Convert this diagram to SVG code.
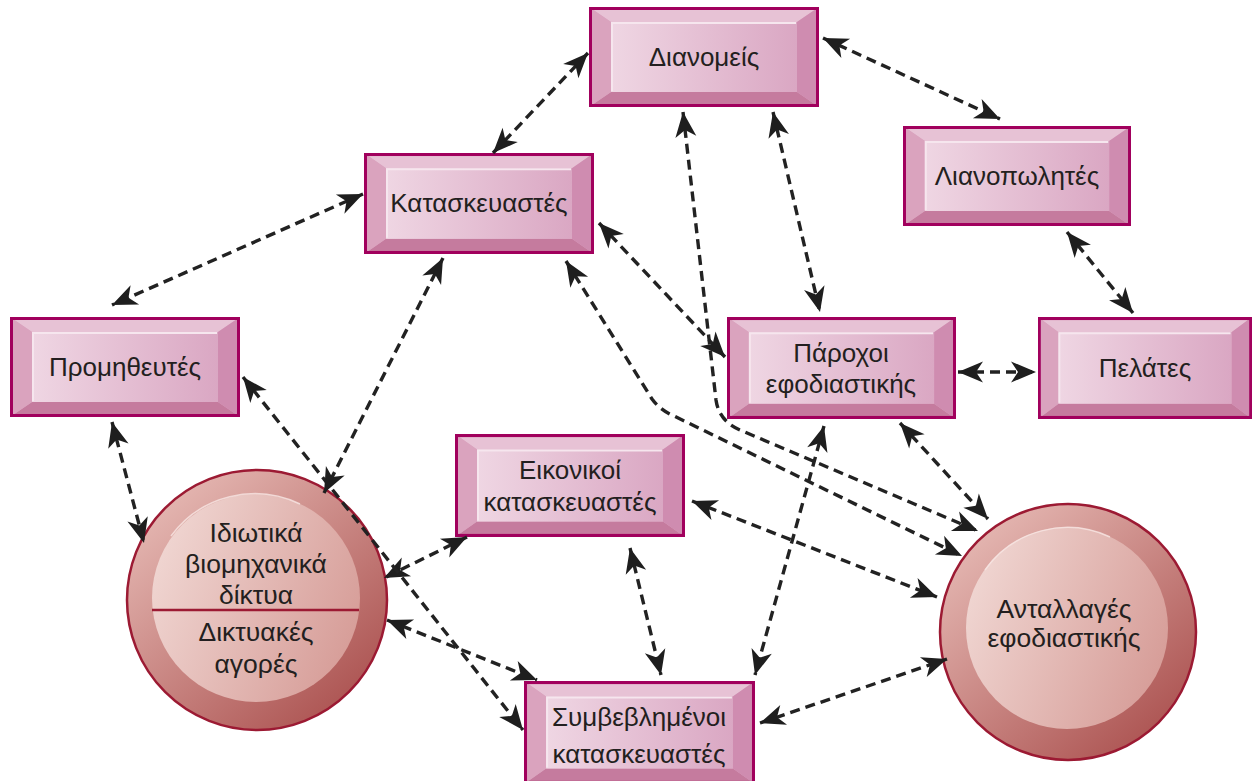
<svg xmlns="http://www.w3.org/2000/svg" xmlns:xlink="http://www.w3.org/1999/xlink" width="1254" height="781" viewBox="0 0 1254 781">
  <defs>
    <style>
      .lbl { font-family: "Liberation Sans", Arial, "DejaVu Sans", sans-serif; font-size: 26px; fill: #231f20; text-anchor: middle; }
      .clbl { font-size: 26.5px; }
      .link { fill: none; stroke: #222222; stroke-width: 3.4; stroke-dasharray: 10 6; marker-start: url(#head); marker-end: url(#head); }
      .edge { fill: none; stroke: #9c1a33; stroke-width: 2.5; }
    </style>
    <linearGradient id="faceGrad" x1="0" y1="0" x2="1" y2="0">
      <stop offset="0" stop-color="#efd6e3"/>
      <stop offset="1" stop-color="#daa7c3"/>
    </linearGradient>
    <linearGradient id="ringGrad" x1="0.15" y1="0.1" x2="0.85" y2="0.9">
      <stop offset="0" stop-color="#e4b6b1"/>
      <stop offset="1" stop-color="#ad5553"/>
    </linearGradient>
    <linearGradient id="discGrad" x1="0" y1="0.3" x2="1" y2="0.7">
      <stop offset="0" stop-color="#f0d6d2"/>
      <stop offset="1" stop-color="#d69c97"/>
    </linearGradient>
    <!-- barbed arrowhead, tip at the path end -->
    <marker id="head" viewBox="-26 -12 28 24" refX="0" refY="0" markerWidth="28" markerHeight="24" markerUnits="userSpaceOnUse" orient="auto-start-reverse">
      <path d="M0,0 L-25,-10.5 L-18,0 L-25,10.5 Z" fill="#1e1e1e"/>
    </marker>
    <!-- bevelled box, 230 x 100 -->
    <symbol id="bevelBox" viewBox="0 0 230 100" preserveAspectRatio="none">
      <rect x="0" y="0" width="230" height="100" fill="#dba6c1"/>
      <polygon points="0,0 230,0 208,15 22,15" fill="#e7c2d5"/>
      <polygon points="0,100 230,100 208,85 22,85" fill="#c57b9e"/>
      <polygon points="0,0 22,15 22,85 0,100" fill="#daa3be"/>
      <polygon points="230,0 208,15 208,85 230,100" fill="#cf8cb0"/>
      <rect x="22" y="15" width="186" height="70" fill="url(#faceGrad)"/>
      <polyline points="23,84 23,16 207,16" fill="none" stroke="#f6e6ee" stroke-width="2"/>
      <rect x="1.5" y="1.5" width="227" height="97" fill="none" stroke="#a1005d" stroke-width="3"/>
    </symbol>
  </defs>

  <rect x="0" y="0" width="1254" height="781" fill="#ffffff"/>

  <!-- rectangular nodes -->
  <g id="distributors">
    <use xlink:href="#bevelBox" x="589" y="7" width="230" height="100"/>
    <text class="lbl" x="704" y="66">Διανομείς</text>
  </g>
  <g id="manufacturers">
    <use xlink:href="#bevelBox" x="364" y="153" width="230" height="101"/>
    <text class="lbl" x="479" y="212">Κατασκευαστές</text>
  </g>
  <g id="retailers">
    <use xlink:href="#bevelBox" x="903" y="126" width="228" height="100"/>
    <text class="lbl" x="1017" y="185">Λιανοπωλητές</text>
  </g>
  <g id="suppliers">
    <use xlink:href="#bevelBox" x="10" y="317" width="230" height="100"/>
    <text class="lbl" x="125" y="376">Προμηθευτές</text>
  </g>
  <g id="logistics-providers">
    <use xlink:href="#bevelBox" x="727" y="317" width="229" height="102"/>
    <text class="lbl" x="841" y="362">Πάροχοι</text>
    <text class="lbl" x="841" y="393">εφοδιαστικής</text>
  </g>
  <g id="customers">
    <use xlink:href="#bevelBox" x="1038" y="317" width="214" height="102"/>
    <text class="lbl" x="1145" y="377">Πελάτες</text>
  </g>
  <g id="virtual-manufacturers">
    <use xlink:href="#bevelBox" x="455" y="434" width="230" height="103"/>
    <text class="lbl" x="570" y="479">Εικονικοί</text>
    <text class="lbl" x="570" y="511">κατασκευαστές</text>
  </g>
  <g id="contract-manufacturers">
    <use xlink:href="#bevelBox" x="524" y="681" width="231" height="103"/>
    <text class="lbl" x="639" y="726">Συμβεβλημένοι</text>
    <text class="lbl" x="639" y="763">κατασκευαστές</text>
  </g>

  <!-- circular nodes -->
  <g id="private-networks">
    <circle cx="257" cy="600" r="130" fill="url(#ringGrad)"/>
    <circle cx="256" cy="598" r="104" fill="url(#discGrad)"/>
    <path d="M171,536 A104,104 0 0 1 300,504" fill="none" stroke="#f7e6e3" stroke-width="1.5" opacity="0.8"/>
    <circle class="edge" cx="257" cy="600" r="130"/>
    <line x1="152" y1="610" x2="359" y2="610" stroke="#9c1a33" stroke-width="2.5"/>
    <text class="lbl clbl" x="256" y="542">Ιδιωτικά</text>
    <text class="lbl clbl" x="256" y="573">βιομηχανικά</text>
    <text class="lbl clbl" x="256" y="604">δίκτυα</text>
    <text class="lbl clbl" x="256" y="641">Δικτυακές</text>
    <text class="lbl clbl" x="256" y="673">αγορές</text>
  </g>
  <g id="logistics-exchanges">
    <circle cx="1068" cy="632" r="128" fill="url(#ringGrad)"/>
    <circle cx="1067" cy="628" r="101" fill="url(#discGrad)"/>
    <path d="M985,570 A101,101 0 0 1 1110,537" fill="none" stroke="#f7e6e3" stroke-width="1.5" opacity="0.8"/>
    <circle class="edge" cx="1068" cy="632" r="128"/>
    <text class="lbl clbl" x="1064" y="618">Ανταλλαγές</text>
    <text class="lbl clbl" x="1064" y="647">εφοδιαστικής</text>
  </g>

  <!-- connectors, drawn over the nodes -->
  <g id="connectors">
    <path class="link" d="M493,153 L588,53"/>
    <path class="link" d="M823,38 L1000,119"/>
    <path class="link" d="M363,194 L112,305"/>
    <path class="link" d="M1067,232 L1133,313"/>
    <path class="link" d="M958,372 L1036,372"/>
    <path class="link" d="M773,112 L820,312"/>
    <path class="link" d="M599,223 L725,357"/>
    <path class="link" d="M683,112 L716,400 Q719,421 740,430 L978,531"/>
    <path class="link" d="M566,261 L652,399 Q660,410 674,416 L962,556"/>
    <path class="link" d="M900,423 L988,519"/>
    <path class="link" d="M692,501 L937,597"/>
    <path class="link" d="M760,723 L947,659"/>
    <path class="link" d="M824,426 L755,675"/>
    <path class="link" d="M630,548 L661,675"/>
    <path class="link" d="M467,537 L384,578"/>
    <path class="link" d="M387,620 L537,680"/>
    <path class="link" d="M243,377 L523,730"/>
    <path class="link" d="M443,258 L324,493"/>
    <path class="link" d="M112,422 L144,543"/>
  </g>
</svg>
